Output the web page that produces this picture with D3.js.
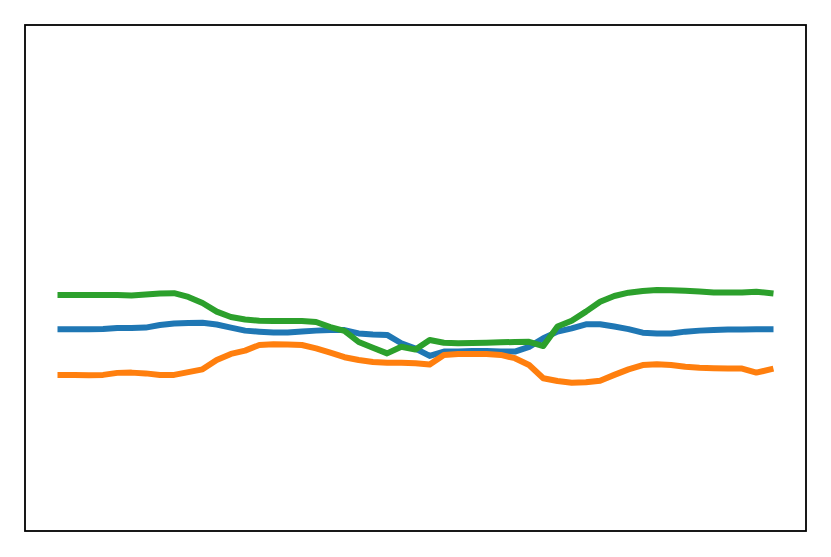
<!DOCTYPE html>
<html>
<head>
<meta charset="utf-8">
<script src="https://cdn.jsdelivr.net/npm/d3@7"></script>
<style>
body { margin:0; background:white; }
</style>
</head>
<body>
<svg></svg>
<script>

var blueValues = [-2.03,-2.03,-2.03,-2.02,-1.98,-1.98,-1.96,-1.86,-1.80,-1.78,
                  -1.77,-1.84,-1.96,-2.08,-2.12,-2.15,-2.15,-2.11,-2.08,-2.06,
                  -2.06,-2.19,-2.23,-2.25,-2.58,-2.79,-3.08,-2.91,-2.91,-2.89,
                  -2.89,-2.91,-2.91,-2.72,-2.38,-2.12,-1.99,-1.83,-1.83,-1.92,
                  -2.02,-2.16,-2.19,-2.19,-2.12,-2.08,-2.06,-2.04,-2.04,-2.03,-2.03]

var orangeValues = [-3.83,-3.83,-3.84,-3.83,-3.75,-3.74,-3.77,-3.83,-3.83,-3.72,
                    -3.61,-3.24,-3.00,-2.87,-2.65,-2.62,-2.63,-2.65,-2.78,-2.95,
                    -3.13,-3.24,-3.32,-3.35,-3.35,-3.37,-3.42,-3.04,-3.00,-3.00,
                    -3.00,-3.04,-3.17,-3.44,-3.96,-4.07,-4.14,-4.12,-4.06,-3.83,
                    -3.61,-3.44,-3.41,-3.44,-3.51,-3.55,-3.57,-3.58,-3.58,-3.74,-3.61]

var greenValues = [-0.67,-0.67,-0.67,-0.67,-0.67,-0.69,-0.65,-0.61,-0.60,-0.75,
                   -0.99,-1.33,-1.54,-1.64,-1.69,-1.70,-1.70,-1.70,-1.74,-1.94,
                   -2.09,-2.53,-2.76,-2.98,-2.72,-2.83,-2.45,-2.56,-2.58,-2.57,
                   -2.56,-2.54,-2.53,-2.52,-2.69,-1.92,-1.69,-1.33,-0.94,-0.71,
                   -0.58,-0.51,-0.47,-0.48,-0.50,-0.53,-0.57,-0.57,-0.57,-0.54,-0.60]

var seriesColors = ["#1f77b4","#ff7f0e","#2ca02c"]

var screen = {width:831,height:557}
var margins = {top:25,right:25,left:25,bottom:26}

var svg = d3.select("svg")
            .attr("width",screen.width)
            .attr("height",screen.height)

var width = screen.width - margins.left - margins.right
var height = screen.height - margins.top - margins.bottom

// matplotlib style 5% padding on x
var xScale = d3.scaleLinear()
               .domain([-2.5,52.5])
               .range([margins.left,margins.left+width])
var yScale = d3.scaleLinear()
               .domain([-10,10])
               .range([margins.top+height,margins.top])

var lineGenerator = d3.line()
                      .x(function(d,i){ return xScale(i)})
                      .y(function(d){ return yScale(d)})

var allSeries = [blueValues,orangeValues,greenValues]

svg.append("g")
   .attr("id","lines")
   .selectAll("path")
   .data(allSeries)
   .enter()
   .append("path")
   .attr("d",lineGenerator)
   .attr("fill","none")
   .attr("stroke",function(d,i){ return seriesColors[i]})
   .attr("stroke-width",6)
   .attr("stroke-linecap","square")
   .attr("stroke-linejoin","round")

// frame
svg.append("rect")
   .attr("x",margins.left)
   .attr("y",margins.top)
   .attr("width",width)
   .attr("height",height)
   .attr("fill","none")
   .attr("stroke","black")
   .attr("stroke-width",1.8)

</script>
</body>
</html>
